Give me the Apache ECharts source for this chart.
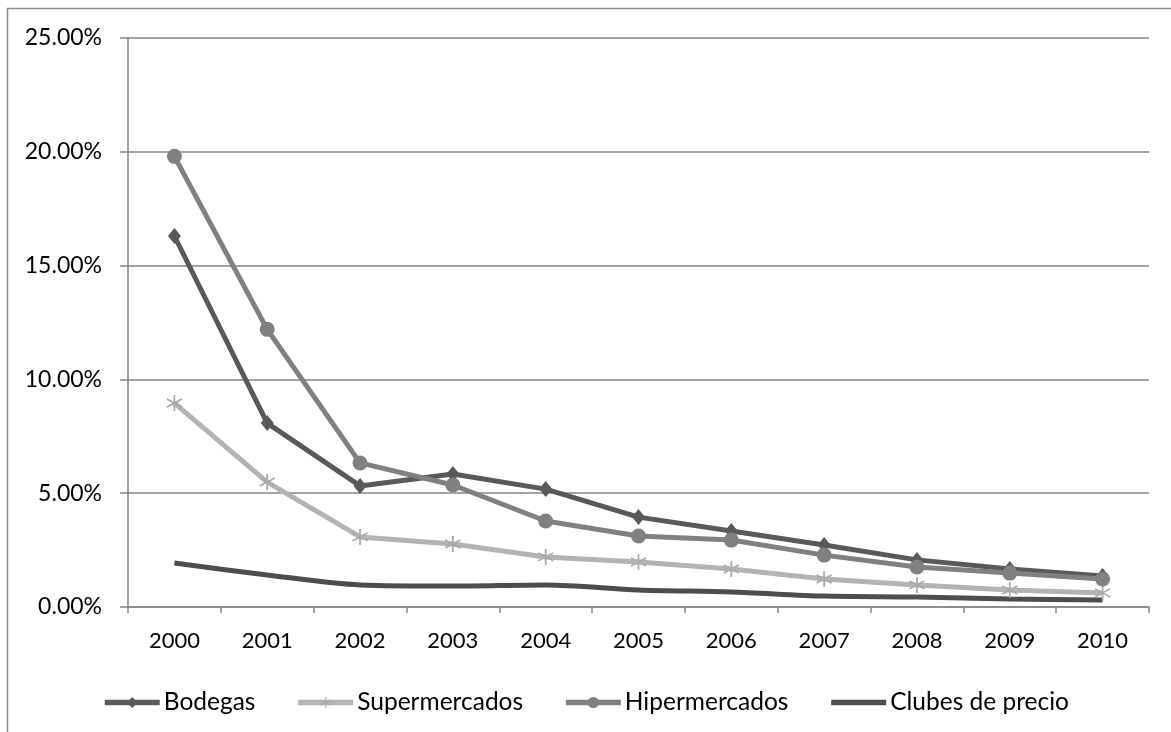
<!DOCTYPE html>
<html>
<head>
<meta charset="utf-8">
<title>Tasa por formato</title>
<script src="https://cdn.jsdelivr.net/npm/echarts@6/dist/echarts.min.js"></script>
<style>
  html, body { margin: 0; padding: 0; background: #ffffff; }
  #chart { width: 1171px; height: 732px; }
</style>
</head>
<body>
<div id="chart"></div>
<script>
// Years on the horizontal axis
const years = ['2000', '2001', '2002', '2003', '2004', '2005', '2006', '2007', '2008', '2009', '2010'];

// Values per format, in percent
const bodegas       = [16.30, 8.08, 5.32, 5.84, 5.18, 3.95, 3.34, 2.72, 2.07, 1.67, 1.36];
const supermercados = [8.96, 5.49, 3.08, 2.77, 2.20, 1.98, 1.67, 1.23, 0.97, 0.75, 0.62];
const hipermercados = [19.80, 12.20, 6.33, 5.36, 3.78, 3.12, 2.94, 2.28, 1.76, 1.49, 1.23];
const clubes        = [1.93, 1.41, 0.97, 0.92, 0.97, 0.75, 0.66, 0.48, 0.44, 0.35, 0.31];

// Value axis ticks
const yTicks = [0, 5, 10, 15, 20, 25];

const FONT = 'Lato, "Open Sans", sans-serif';
const AXIS_GRAY = '#868686';

// Six-armed asterisk marker
const asterisk = 'path://M9,0 L11,0 L11,20 L9,20 Z ' +
  'M0.84,5.87 L1.84,4.13 L19.16,14.13 L18.16,15.87 Z ' +
  'M1.84,15.87 L0.84,14.13 L18.16,4.13 L19.16,5.87 Z';

const chart = echarts.init(document.getElementById('chart'), null, { renderer: 'canvas' });

const option = {
  backgroundColor: '#ffffff',
  animation: false,
  graphic: [{
    type: 'rect',
    shape: { x: 7.5, y: 8.5, width: 1200, height: 800 },
    style: { fill: 'none', stroke: '#8c8c8c', lineWidth: 1.5 },
    silent: true,
    z: -10
  }],
  grid: { left: 128, right: 22, top: 38, bottom: 125, containLabel: false },
  legend: {
    top: 685,
    left: 'center',
    itemWidth: 55,
    itemHeight: 14,
    itemGap: 40,
    lineStyle: { width: 5.5 },
    textStyle: { fontFamily: FONT, fontSize: 24.5, color: '#000000', padding: [0, 0, 0, -1] },
    data: [
      'Bodegas',
      'Supermercados',
      'Hipermercados',
      // plain line in the key: hide the default marker
      { name: 'Clubes de precio', itemStyle: { opacity: 0 } }
    ]
  },
  xAxis: {
    type: 'category',
    data: years,
    boundaryGap: true,
    axisLine: { show: true, lineStyle: { color: AXIS_GRAY, width: 1.5 } },
    axisTick: { show: true, length: 6, lineStyle: { color: AXIS_GRAY, width: 1.5 } },
    axisLabel: { fontFamily: FONT, fontSize: 22, color: '#000000', margin: 23 },
    splitLine: { show: false }
  },
  yAxis: {
    type: 'value',
    min: yTicks[0],
    max: yTicks[yTicks.length - 1],
    interval: yTicks[1] - yTicks[0],
    axisLine: { show: true, lineStyle: { color: AXIS_GRAY, width: 1.5 } },
    axisTick: { show: true, length: 8, lineStyle: { color: AXIS_GRAY, width: 1.5 } },
    axisLabel: {
      fontFamily: FONT, fontSize: 23, color: '#000000', margin: 26,
      formatter: v => v.toFixed(2) + '%'
    },
    splitLine: { show: true, lineStyle: { color: AXIS_GRAY, width: 1.5 } }
  },
  series: [
    {
      name: 'Bodegas', type: 'line', data: bodegas,
      symbol: 'diamond', symbolSize: [13, 16],
      lineStyle: { color: '#595959', width: 5 },
      itemStyle: { color: '#595959' }
    },
    {
      name: 'Supermercados', type: 'line', data: supermercados,
      symbol: asterisk, symbolSize: 16,
      lineStyle: { color: '#b3b3b3', width: 5 },
      itemStyle: { color: '#a9a9a9' }
    },
    {
      name: 'Hipermercados', type: 'line', data: hipermercados,
      symbol: 'circle', symbolSize: 15,
      lineStyle: { color: '#808080', width: 5 },
      itemStyle: { color: '#808080' }
    },
    {
      name: 'Clubes de precio', type: 'line', data: clubes,
      symbol: 'none', smooth: 0.3,
      lineStyle: { color: '#4d4d4d', width: 5 },
      itemStyle: { color: '#4d4d4d' }
    }
  ]
};

chart.setOption(option);
</script>
</body>
</html>
